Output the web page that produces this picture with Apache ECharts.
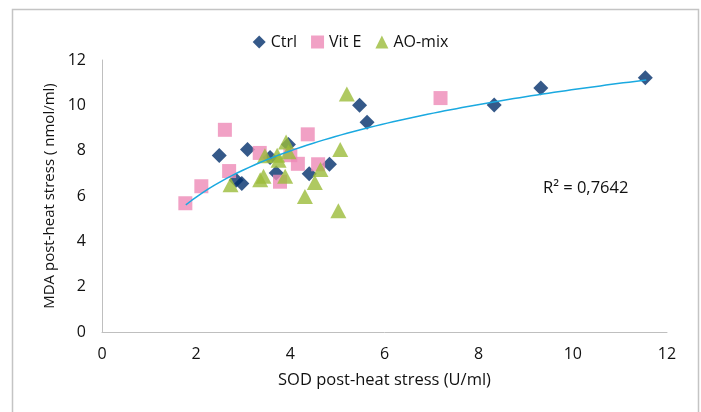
<!DOCTYPE html>
<html>
<head>
<meta charset="utf-8">
<script src="https://cdn.jsdelivr.net/npm/echarts@6/dist/echarts.min.js"></script>
<style>html,body{margin:0;padding:0;background:#fff}#c{width:701px;height:412px}</style>
</head>
<body>
<div id="c"></div>
<script>
// ---- Data ----
const seriesNames = ['Ctrl', 'Vit E', 'AO-mix'];
const ctrlX = [2.49, 3.09, 2.85, 2.97, 3.57, 3.70, 3.96, 4.40, 4.83, 5.47, 5.63, 8.33, 9.32, 11.54];
const ctrlY = [7.79, 8.05, 6.70, 6.55, 7.70, 7.02, 8.27, 6.98, 7.40, 10.00, 9.25, 10.02, 10.77, 11.22];
const vitEX = [1.77, 2.11, 2.61, 2.70, 3.35, 3.78, 4.00, 4.16, 4.37, 4.59, 7.19];
const vitEY = [5.68, 6.43, 8.92, 7.10, 7.90, 6.63, 7.80, 7.42, 8.72, 7.40, 10.32];
const aoX = [2.73, 3.36, 3.43, 3.46, 3.72, 3.75, 3.91, 3.96, 3.89, 4.31, 4.52, 4.64, 5.02, 5.06, 5.20];
const aoY = [6.50, 6.72, 6.87, 7.78, 7.80, 7.58, 8.38, 7.95, 6.87, 5.98, 6.60, 7.17, 5.35, 8.05, 10.50];
const xTicks = [0, 2, 4, 6, 8, 10, 12];
const yTicks = [0, 2, 4, 6, 8, 10, 12];
// logarithmic trendline y = a*ln(x) + b, coefficients
const trendA = 2.946;
const trendB = 3.908;
const trendRange = [1.78, 11.56];
const r2Text = 'R\u00B2 = 0,7642';
const xTitle = 'SOD post-heat stress (U/ml)';
const yTitle = 'MDA post-heat stress ( nmol/ml)';

const trend = [];
const steps = 80;
for (let i = 0; i <= steps; i++) {
  const x = trendRange[0] + (trendRange[1] - trendRange[0]) * i / steps;
  trend.push([x, trendA * Math.log(x) + trendB]);
}
const zip = (xs, ys) => xs.map((x, i) => [x, ys[i]]);

const FONT = 'Open Sans';
const TXT = '#111111';
const chart = echarts.init(document.getElementById('c'), null, { renderer: 'canvas' });
chart.setOption({
  animation: false,
  backgroundColor: '#ffffff',
  textStyle: { fontFamily: FONT },
  graphic: [
    { type: 'rect', shape: { x: 12.5, y: 9.5, width: 686, height: 420 }, style: { fill: 'none', stroke: '#c4c4c4', lineWidth: 1.5 }, silent: true, z: -10 },
    { type: 'text', left: 543, top: 180, style: { text: r2Text, font: '16.5px "' + FONT + '"', fill: TXT } }
  ],
  legend: {
    top: 29, left: 'center', itemGap: 14, itemWidth: 13, itemHeight: 13,
    textStyle: { fontFamily: FONT, fontSize: 16, color: TXT },
    data: seriesNames
  },
  grid: { left: 102, right: 34, top: 60, bottom: 80, containLabel: false },
  xAxis: {
    type: 'value', min: xTicks[0], max: xTicks[xTicks.length - 1], interval: 2,
    name: xTitle, nameLocation: 'middle', nameGap: 40,
    nameTextStyle: { fontFamily: FONT, fontSize: 16.5, color: TXT },
    axisLine: { show: true, lineStyle: { color: '#bfbfbf', width: 1 } },
    axisTick: { show: false }, splitLine: { show: false },
    axisLabel: { fontFamily: FONT, fontSize: 16, color: TXT, margin: 14 }
  },
  yAxis: {
    type: 'value', min: yTicks[0], max: yTicks[yTicks.length - 1], interval: 2,
    name: yTitle, nameLocation: 'middle', nameGap: 45, nameRotate: 90,
    nameTextStyle: { fontFamily: FONT, fontSize: 15, color: TXT },
    axisLine: { show: true, lineStyle: { color: '#bfbfbf', width: 1 } },
    axisTick: { show: false }, splitLine: { show: false },
    axisLabel: { fontFamily: FONT, fontSize: 16, color: TXT, margin: 16 }
  },
  series: [
    { name: seriesNames[0], type: 'scatter', symbol: 'diamond', symbolSize: 15, itemStyle: { color: '#03306b' }, data: zip(ctrlX, ctrlY), z: 2 },
    { name: seriesNames[1], type: 'scatter', symbol: 'rect', symbolSize: 14, itemStyle: { color: '#ee89b6' }, data: zip(vitEX, vitEY), z: 3 },
    { name: seriesNames[2], type: 'scatter', symbol: 'triangle', symbolSize: [16, 15], itemStyle: { color: '#9bbb3a' }, data: zip(aoX, aoY), z: 4 },
    { name: 'trend', type: 'line', data: trend, showSymbol: false, symbol: 'none', smooth: false,
      lineStyle: { color: '#1aa9e0', width: 1.5 }, z: 5, silent: true, legendHoverLink: false }
  ]
});
</script>
</body>
</html>
